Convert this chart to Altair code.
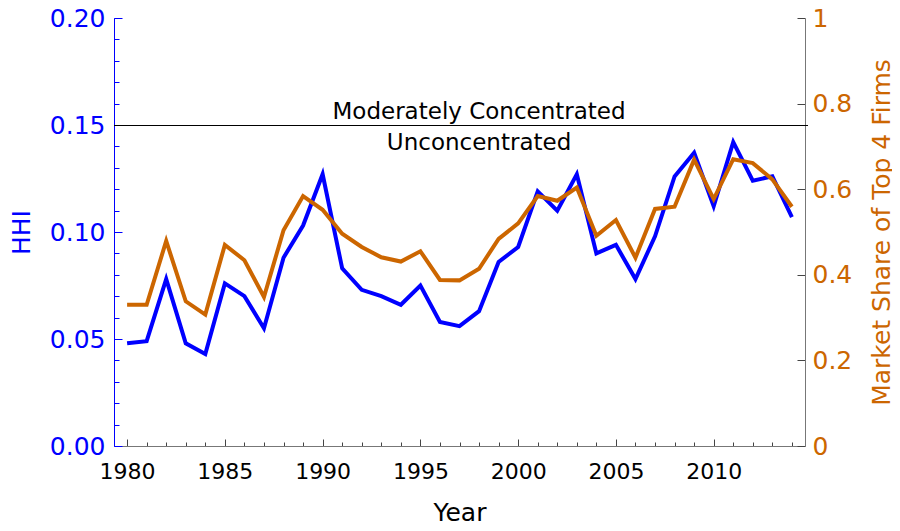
import altair as alt
import pandas as pd

# ---------------- data ----------------
years = [1980, 1981, 1982, 1983, 1984, 1985, 1986, 1987, 1988, 1989,
         1990, 1991, 1992, 1993, 1994, 1995, 1996, 1997, 1998, 1999,
         2000, 2001, 2002, 2003, 2004, 2005, 2006, 2007, 2008, 2009,
         2010, 2011, 2012, 2013, 2014]
hhi = [0.048, 0.049, 0.078, 0.048, 0.043, 0.076, 0.070, 0.055, 0.088, 0.103,
       0.127, 0.083, 0.073, 0.070, 0.066, 0.075, 0.058, 0.056, 0.063, 0.086,
       0.093, 0.119, 0.110, 0.127, 0.090, 0.094, 0.078, 0.098, 0.126, 0.137,
       0.112, 0.142, 0.124, 0.126, 0.107]
share_top4 = [0.330, 0.330, 0.479, 0.338, 0.307, 0.470, 0.434, 0.348, 0.504, 0.584,
              0.552, 0.496, 0.465, 0.441, 0.431, 0.455, 0.388, 0.387, 0.414, 0.484,
              0.520, 0.584, 0.573, 0.604, 0.491, 0.528, 0.440, 0.554, 0.559, 0.669,
              0.577, 0.670, 0.661, 0.623, 0.559]

year_major_ticks = [1980, 1985, 1990, 1995, 2000, 2005, 2010]
year_minor_ticks = years
hhi_major_ticks = [0.0, 0.05, 0.10, 0.15, 0.20]
hhi_minor_ticks = [0.0, 0.01, 0.02, 0.03, 0.04, 0.05, 0.06, 0.07, 0.08, 0.09, 0.10,
                   0.11, 0.12, 0.13, 0.14, 0.15, 0.16, 0.17, 0.18, 0.19, 0.20]
share_ticks = [0, 0.2, 0.4, 0.6, 0.8, 1]

threshold = [0.15]
label_above = ["Moderately Concentrated"]
label_below = ["Unconcentrated"]
label_year = [1998]

df = pd.DataFrame({"Year": years, "HHI": hhi, "Share": share_top4})
thr_df = pd.DataFrame({"y": threshold})
above_df = pd.DataFrame({"x": label_year, "y": threshold, "text": label_above})
below_df = pd.DataFrame({"x": label_year, "y": threshold, "text": label_below})

# ---------------- style ----------------
W, H = 691, 428
BLUE = "#0000ff"
ORANGE = "#cc6600"
GRAY = "#777777"
TICK = "#444444"
FONT = "DejaVu Sans"

xsc = alt.Scale(domain=[1979.33, 2014.67], nice=False, zero=False)
ysc = alt.Scale(domain=[0, 0.2], nice=False, zero=True)
ssc = alt.Scale(domain=[0, 1], nice=False, zero=True)

# blue line with visible left + bottom axes
blue = alt.Chart(df).mark_line(color=BLUE, strokeWidth=4).encode(
    x=alt.X("Year:Q", scale=xsc, axis=alt.Axis(
        orient="bottom", values=year_major_ticks, format="d", ticks=False, tickSize=0,
        labelFontSize=22, labelColor="black", labelPadding=15, labelFlush=False,
        domainColor=GRAY, title="Year", titleFontSize=25, titleFontWeight="normal",
        titleColor="black", titlePadding=18, grid=False)),
    y=alt.Y("HHI:Q", scale=ysc, axis=alt.Axis(
        orient="left", values=hhi_major_ticks, format=".2f", ticks=False, tickSize=0,
        labelFontSize=25, labelColor=BLUE, labelPadding=9, domainColor=BLUE,
        title="HHI", titleColor=BLUE, titleFontSize=25, titleFontWeight="normal",
        titlePadding=15, grid=False)),
)

# inward major ticks (bottom and left)
blue_major = alt.Chart(df).mark_line(strokeOpacity=0).encode(
    x=alt.X("Year:Q", scale=xsc, axis=alt.Axis(
        orient="top", offset=-H, values=year_major_ticks, labels=False, domain=False,
        tickSize=7, tickColor=TICK, title=None, grid=False)),
    y=alt.Y("HHI:Q", scale=ysc, axis=alt.Axis(
        orient="right", offset=-W, values=hhi_major_ticks, labels=False, domain=False,
        tickSize=8, tickColor=BLUE, title=None, grid=False)),
)

# inward minor ticks (bottom and left)
blue_minor = alt.Chart(df).mark_line(strokeOpacity=0).encode(
    x=alt.X("Year:Q", scale=xsc, axis=alt.Axis(
        orient="top", offset=-H, values=year_minor_ticks, labels=False, domain=False,
        tickSize=4, tickColor=TICK, title=None, grid=False)),
    y=alt.Y("HHI:Q", scale=ysc, axis=alt.Axis(
        orient="right", offset=-W, values=hhi_minor_ticks, labels=False, domain=False,
        tickSize=5, tickColor=BLUE, title=None, grid=False)),
)

rule = alt.Chart(thr_df).mark_rule(color="black", strokeWidth=1, yOffset=0.5).encode(
    y=alt.Y("y:Q", scale=ysc, axis=None),
    x=alt.value(0), x2=alt.value(W + 3),
)

text_above = alt.Chart(above_df).mark_text(
    font=FONT, fontSize=23, color="black", align="center", baseline="bottom", dy=-1
).encode(
    x=alt.X("x:Q", scale=xsc, axis=None),
    y=alt.Y("y:Q", scale=ysc, axis=None),
    text="text:N",
)

text_below = alt.Chart(below_df).mark_text(
    font=FONT, fontSize=23, color="black", align="center", baseline="top", dy=7
).encode(
    x=alt.X("x:Q", scale=xsc, axis=None),
    y=alt.Y("y:Q", scale=ysc, axis=None),
    text="text:N",
)

left = alt.layer(blue_major, blue_minor, rule, text_above, text_below, blue).resolve_axis(
    x="independent", y="independent")

orange = alt.Chart(df).mark_line(color=ORANGE, strokeWidth=4).encode(
    x=alt.X("Year:Q", scale=xsc, axis=None),
    y=alt.Y("Share:Q", scale=ssc, axis=alt.Axis(
        orient="right", values=share_ticks, format="~g", ticks=False, tickSize=0,
        labelFontSize=25, labelColor=ORANGE, labelPadding=7, domainColor=GRAY,
        title="Market Share of Top 4 Firms", titleColor=ORANGE, titleFontSize=25,
        titleFontWeight="normal", titleAngle=270, titlePadding=43, grid=False)),
)

orange_ticks = alt.Chart(df).mark_line(strokeOpacity=0).encode(
    x=alt.X("Year:Q", scale=xsc, axis=None),
    y=alt.Y("Share:Q", scale=ssc, axis=alt.Axis(
        orient="left", offset=-W, values=share_ticks, labels=False, domain=False,
        tickSize=8, tickColor=TICK, title=None, grid=False)),
)

right = alt.layer(orange_ticks, orange).resolve_axis(x="independent", y="independent")

chart = alt.layer(left, right).resolve_scale(y="independent").resolve_axis(
    x="independent", y="independent"
).properties(
    width=W, height=H,
    autosize=alt.AutoSizeParams(type="none"),
    padding={"left": 106, "top": 10, "right": 87, "bottom": 77},
    background="white",
).configure_view(stroke=None).configure_axis(
    labelFont=FONT, titleFont=FONT
)

chart.save("out.html", embed_options={"renderer": "svg", "actions": False})
